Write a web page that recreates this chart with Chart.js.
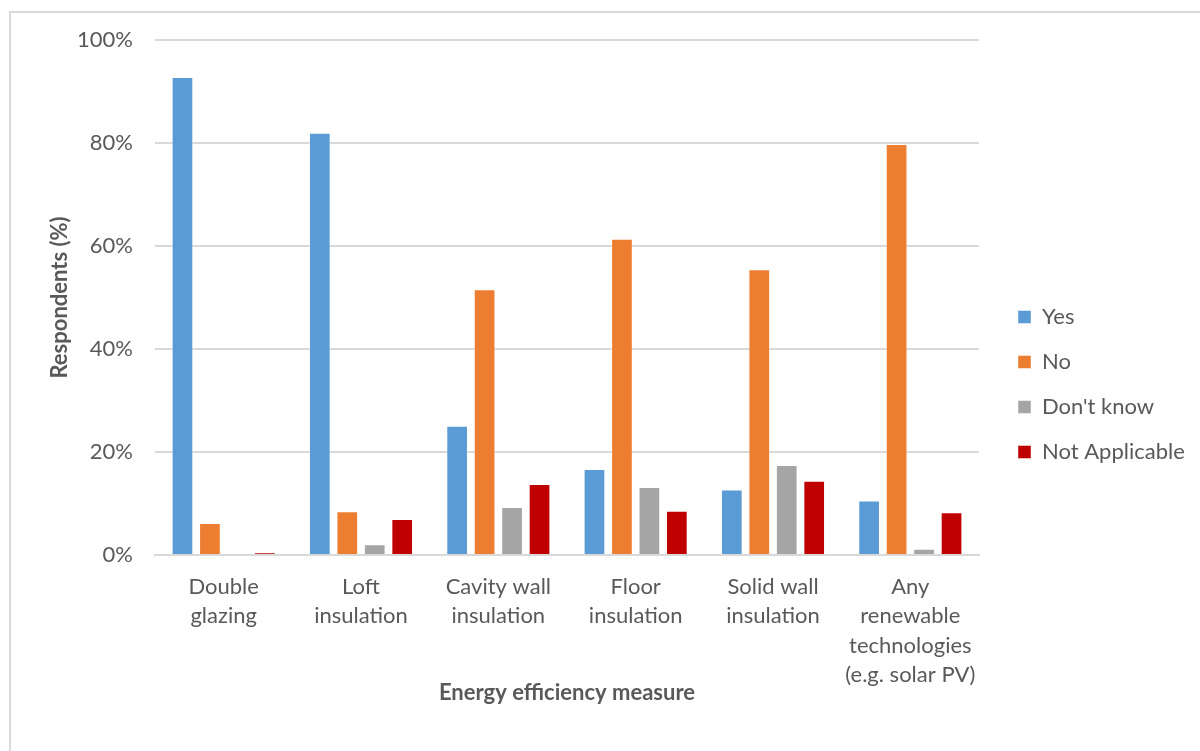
<!DOCTYPE html>
<html>
<head>
<meta charset="utf-8">
<title>Energy efficiency measures</title>
<script src="https://cdn.jsdelivr.net/npm/chart.js@4.4.1/dist/chart.umd.min.js"></script>
<style>
  html, body { margin: 0; padding: 0; width: 1200px; height: 751px; overflow: hidden; background: #fff; }
  #frame { position: absolute; left: 9px; top: 11px; width: 1400px; height: 1000px;
           border: 2px solid #d9d9d9; box-sizing: border-box; }
  #c { position: absolute; left: 0; top: 0; }
</style>
</head>
<body>
<div id="frame"></div>
<canvas id="c" width="1200" height="751"></canvas>
<script>
// Measures (multi-line category labels)
const categories = [
  ['Double', 'glazing'],
  ['Loft', 'insulation'],
  ['Cavity wall', 'insulation'],
  ['Floor', 'insulation'],
  ['Solid wall', 'insulation'],
  ['Any', 'renewable', 'technologies', '(e.g. solar PV)']
];

// Share of respondents (%) per answer
const yesValues = [92.8, 82.0, 25.1, 16.7, 12.7, 10.6];
const noValues = [6.2, 8.5, 51.6, 61.4, 55.5, 79.8];
const dontKnowValues = [0.2, 2.1, 9.3, 13.2, 17.5, 1.2];
const notApplicableValues = [0.5, 7.0, 13.8, 8.6, 14.4, 8.3];

const seriesNames = ['Yes', 'No', "Don't know", 'Not Applicable'];
const seriesColors = ['#5B9BD5', '#ED7D31', '#A5A5A5', '#C00000'];

// Y axis tick values
const yTicks = [0, 20, 40, 60, 80, 100];

const FONT = 'Lato';
const TEXT = '#595959';
const GRID = '#d9d9d9';
const FS = 22;

const PLOT_LEFT = 155;
const PLOT_RIGHT = 979;
const PAD_LEFT = 30;
const LEGEND_BOX = 13;
const LEGEND_SHIFT = 16;

// Keep the legend column a fixed width and set it a little away from the plot
const legendLayout = {
  id: 'legendLayout',
  beforeLayout(chart) {
    const l = chart.legend;
    if (l && !l._fixedFit) {
      const fit = l.fit.bind(l);
      l.fit = function () { fit(); this.width = chart.width - PLOT_RIGHT; };
      l._fixedFit = true;
    }
  },
  afterLayout(chart) {
    const l = chart.legend;
    if (l) { l.left += LEGEND_SHIFT; l.right += LEGEND_SHIFT; }
  }
};

const allSeries = [yesValues, noValues, dontKnowValues, notApplicableValues];

new Chart(document.getElementById('c'), {
  type: 'bar',
  data: {
    labels: categories,
    datasets: allSeries.map((vals, i) => ({
      label: seriesNames[i],
      data: vals,
      backgroundColor: seriesColors[i],
      borderColor: 'rgba(255,255,255,0.45)',
      borderWidth: 1,
      categoryPercentage: 0.8,
      barPercentage: 0.79
    }))
  },
  options: {
    responsive: false,
    animation: false,
    layout: { padding: { left: PAD_LEFT, top: 40, bottom: 22, right: 0 } },
    plugins: {
      tooltip: { enabled: false },
      legend: {
        position: 'right',
        labels: {
          boxWidth: LEGEND_BOX,
          boxHeight: LEGEND_BOX,
          padding: 23,
          color: TEXT,
          font: { family: FONT, size: FS }
        }
      }
    },
    scales: {
      x: {
        grid: { display: false, drawTicks: false },
        border: { display: true, color: GRID, width: 2 },
        ticks: {
          color: TEXT,
          padding: 17,
          maxRotation: 0,
          autoSkip: false,
          font: { family: FONT, size: FS, lineHeight: 1.34 }
        },
        title: {
          display: true,
          text: 'Energy efficiency measure',
          color: TEXT,
          font: { family: FONT, size: FS, weight: 'bold' },
          padding: { top: 0, bottom: 23 }
        },
        afterFit(scale) { scale.height = 174; }
      },
      y: {
        min: 0,
        max: 100,
        afterBuildTicks(scale) { scale.ticks = yTicks.map(v => ({ value: v })); },
        grid: { color: GRID, lineWidth: 2, drawTicks: false },
        border: { display: false },
        ticks: {
          color: TEXT,
          padding: 22,
          font: { family: FONT, size: FS },
          callback: v => v + '%'
        },
        title: {
          display: true,
          text: 'Respondents (%)',
          color: TEXT,
          font: { family: FONT, size: FS, weight: 'bold' },
          padding: { top: 17, bottom: 0 }
        },
        afterFit(scale) { scale.width = PLOT_LEFT - PAD_LEFT; }
      }
    }
  },
  plugins: [legendLayout]
});
</script>
</body>
</html>
